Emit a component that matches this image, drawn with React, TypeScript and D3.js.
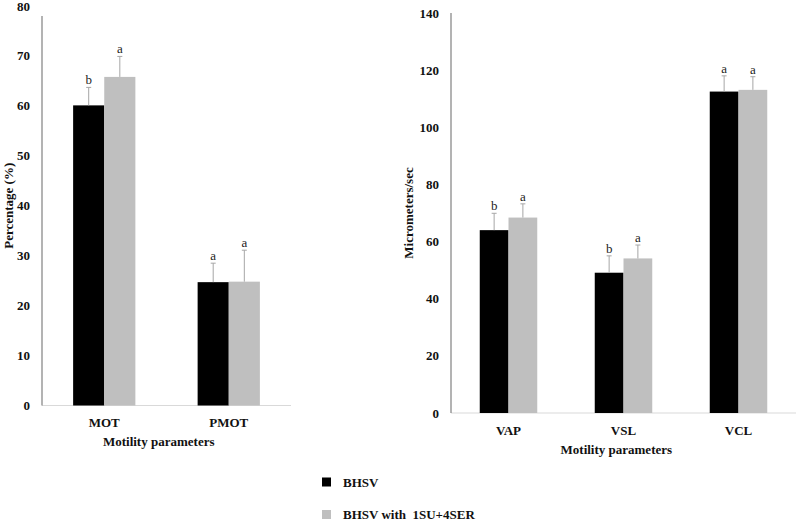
import * as d3 from "d3";

const seriesNames = ["BHSV", "BHSV with  1SU+4SER"];
const seriesColors = ["#000000", "#bfbfbf"];

// left panel
const leftCats = ["MOT", "PMOT"];
const leftMeans = [
  [60.1, 24.7],
  [65.8, 24.8],
];
const leftErrs = [
  [3.6, 3.8],
  [4.1, 6.3],
];
const leftLetters = [
  ["b", "a"],
  ["a", "a"],
];
const leftTicks = [0, 10, 20, 30, 40, 50, 60, 70, 80];

// right panel
const rightCats = ["VAP", "VSL", "VCL"];
const rightMeans = [
  [64.0, 49.1, 112.5],
  [68.4, 54.1, 113.1],
];
const rightErrs = [
  [5.9, 5.9, 5.5],
  [4.8, 4.7, 4.6],
];
const rightLetters = [
  ["b", "b", "a"],
  ["a", "a", "a"],
];
const rightTicks = [0, 20, 40, 60, 80, 100, 120, 140];

const font = "'Liberation Serif', 'Times New Roman', serif";

type PanelProps = {
  cats: string[];
  means: number[][];
  errs: number[][];
  letters: string[][];
  ticks: number[];
  x0: number;
  x1: number;
  yTop: number;
  yBottom: number;
  yTitle: string;
  yTitleX: number;
  axisTopGap: number;
};

function Panel(p: PanelProps) {
  const max = p.ticks[p.ticks.length - 1];
  const y = d3.scaleLinear().domain([0, max]).range([p.yBottom, p.yTop]);
  const x = d3
    .scaleBand<string>()
    .domain(p.cats)
    .range([p.x0, p.x1])
    .paddingInner(0.5)
    .paddingOuter(0.25);
  const xs = d3
    .scaleBand<number>()
    .domain([0, 1])
    .range([0, x.bandwidth()]);

  return (
    <g>
      {/* baseline */}
      <line x1={p.x0} x2={p.x1} y1={y(0)} y2={y(0)} stroke="#d9d9d9" strokeWidth={1} />
      {/* bars */}
      {p.means.map((row, s) =>
        row.map((v, i) => {
          const bx = (x(p.cats[i]) ?? 0) + (xs(s) ?? 0);
          const cx = bx + xs.bandwidth() / 2;
          const top = y(v + p.errs[s][i]);
          return (
            <g key={`${s}-${i}`}>
              <rect x={bx} y={y(v)} width={xs.bandwidth()} height={y(0) - y(v)} fill={seriesColors[s]} />
              <line x1={cx} x2={cx} y1={y(v)} y2={top} stroke="#a6a6a6" strokeWidth={1} />
              <line x1={cx - 2.5} x2={cx + 2.5} y1={top} y2={top} stroke="#a6a6a6" strokeWidth={1} />
              <text x={cx} y={top - 3} textAnchor="middle" fontSize={13} fontFamily={font} fill="#222">
                {p.letters[s][i]}
              </text>
            </g>
          );
        })
      )}
      {/* y axis */}
      <line x1={p.x0} x2={p.x0} y1={y(max) + p.axisTopGap} y2={y(0)} stroke="#808080" strokeWidth={1.2} />
      {p.ticks.map((t) => (
        <text
          key={t}
          x={p.x0 - 12}
          y={y(t)}
          dy="0.35em"
          textAnchor="end"
          fontSize={13}
          fontWeight="bold"
          fontFamily={font}
          fill="#111"
        >
          {t}
        </text>
      ))}
      {/* category labels */}
      {p.cats.map((c) => (
        <text
          key={c}
          x={(x(c) ?? 0) + x.bandwidth() / 2}
          y={y(0) + 17}
          dy="0.35em"
          textAnchor="middle"
          fontSize={13}
          fontWeight="bold"
          fontFamily={font}
          fill="#111"
        >
          {c}
        </text>
      ))}
      <text
        x={(p.x0 + x(p.cats[p.cats.length - 1])! + x.bandwidth() * 1.25) / 2}
        y={y(0) + 36}
        dy="0.35em"
        textAnchor="middle"
        fontSize={13}
        fontWeight="bold"
        fontFamily={font}
        fill="#111"
      >
        Motility parameters
      </text>
      <text
        transform={`translate(${p.yTitleX},${(p.yTop + p.yBottom) / 2}) rotate(-90)`}
        dy="0.35em"
        textAnchor="middle"
        fontSize={13}
        fontWeight="bold"
        fontFamily={font}
        fill="#111"
      >
        {p.yTitle}
      </text>
    </g>
  );
}

export default function App() {
  const width = 797;
  const height = 522;
  const legendY = d3.scalePoint<string>().domain(seriesNames).range([482, 514.5]);

  return (
    <div style={{ position: "absolute", left: 0, top: 0 }}>
      <svg width={width} height={height} style={{ display: "block", background: "#fff" }}>
        <Panel
          cats={leftCats}
          means={leftMeans}
          errs={leftErrs}
          letters={leftLetters}
          ticks={leftTicks}
          x0={42}
          x1={291}
          yTop={6}
          yBottom={405.5}
          yTitle="Percentage (%)"
          yTitleX={8}
          axisTopGap={10}
        />
        <Panel
          cats={rightCats}
          means={rightMeans}
          errs={rightErrs}
          letters={rightLetters}
          ticks={rightTicks}
          x0={451}
          x1={796}
          yTop={13}
          yBottom={413}
          yTitle="Micrometers/sec"
          yTitleX={408}
          axisTopGap={0}
        />
        {seriesNames.map((n, i) => (
          <g key={n}>
            <rect x={322} y={legendY(n)! - 4.5} width={9} height={9} fill={seriesColors[i]} />
            <text
              x={343}
              y={legendY(n)}
              dy="0.35em"
              fontSize={13}
              fontWeight="bold"
              fontFamily={font}
              fill="#111"
              style={{ whiteSpace: "pre" }}
            >
              {n}
            </text>
          </g>
        ))}
      </svg>
    </div>
  );
}
